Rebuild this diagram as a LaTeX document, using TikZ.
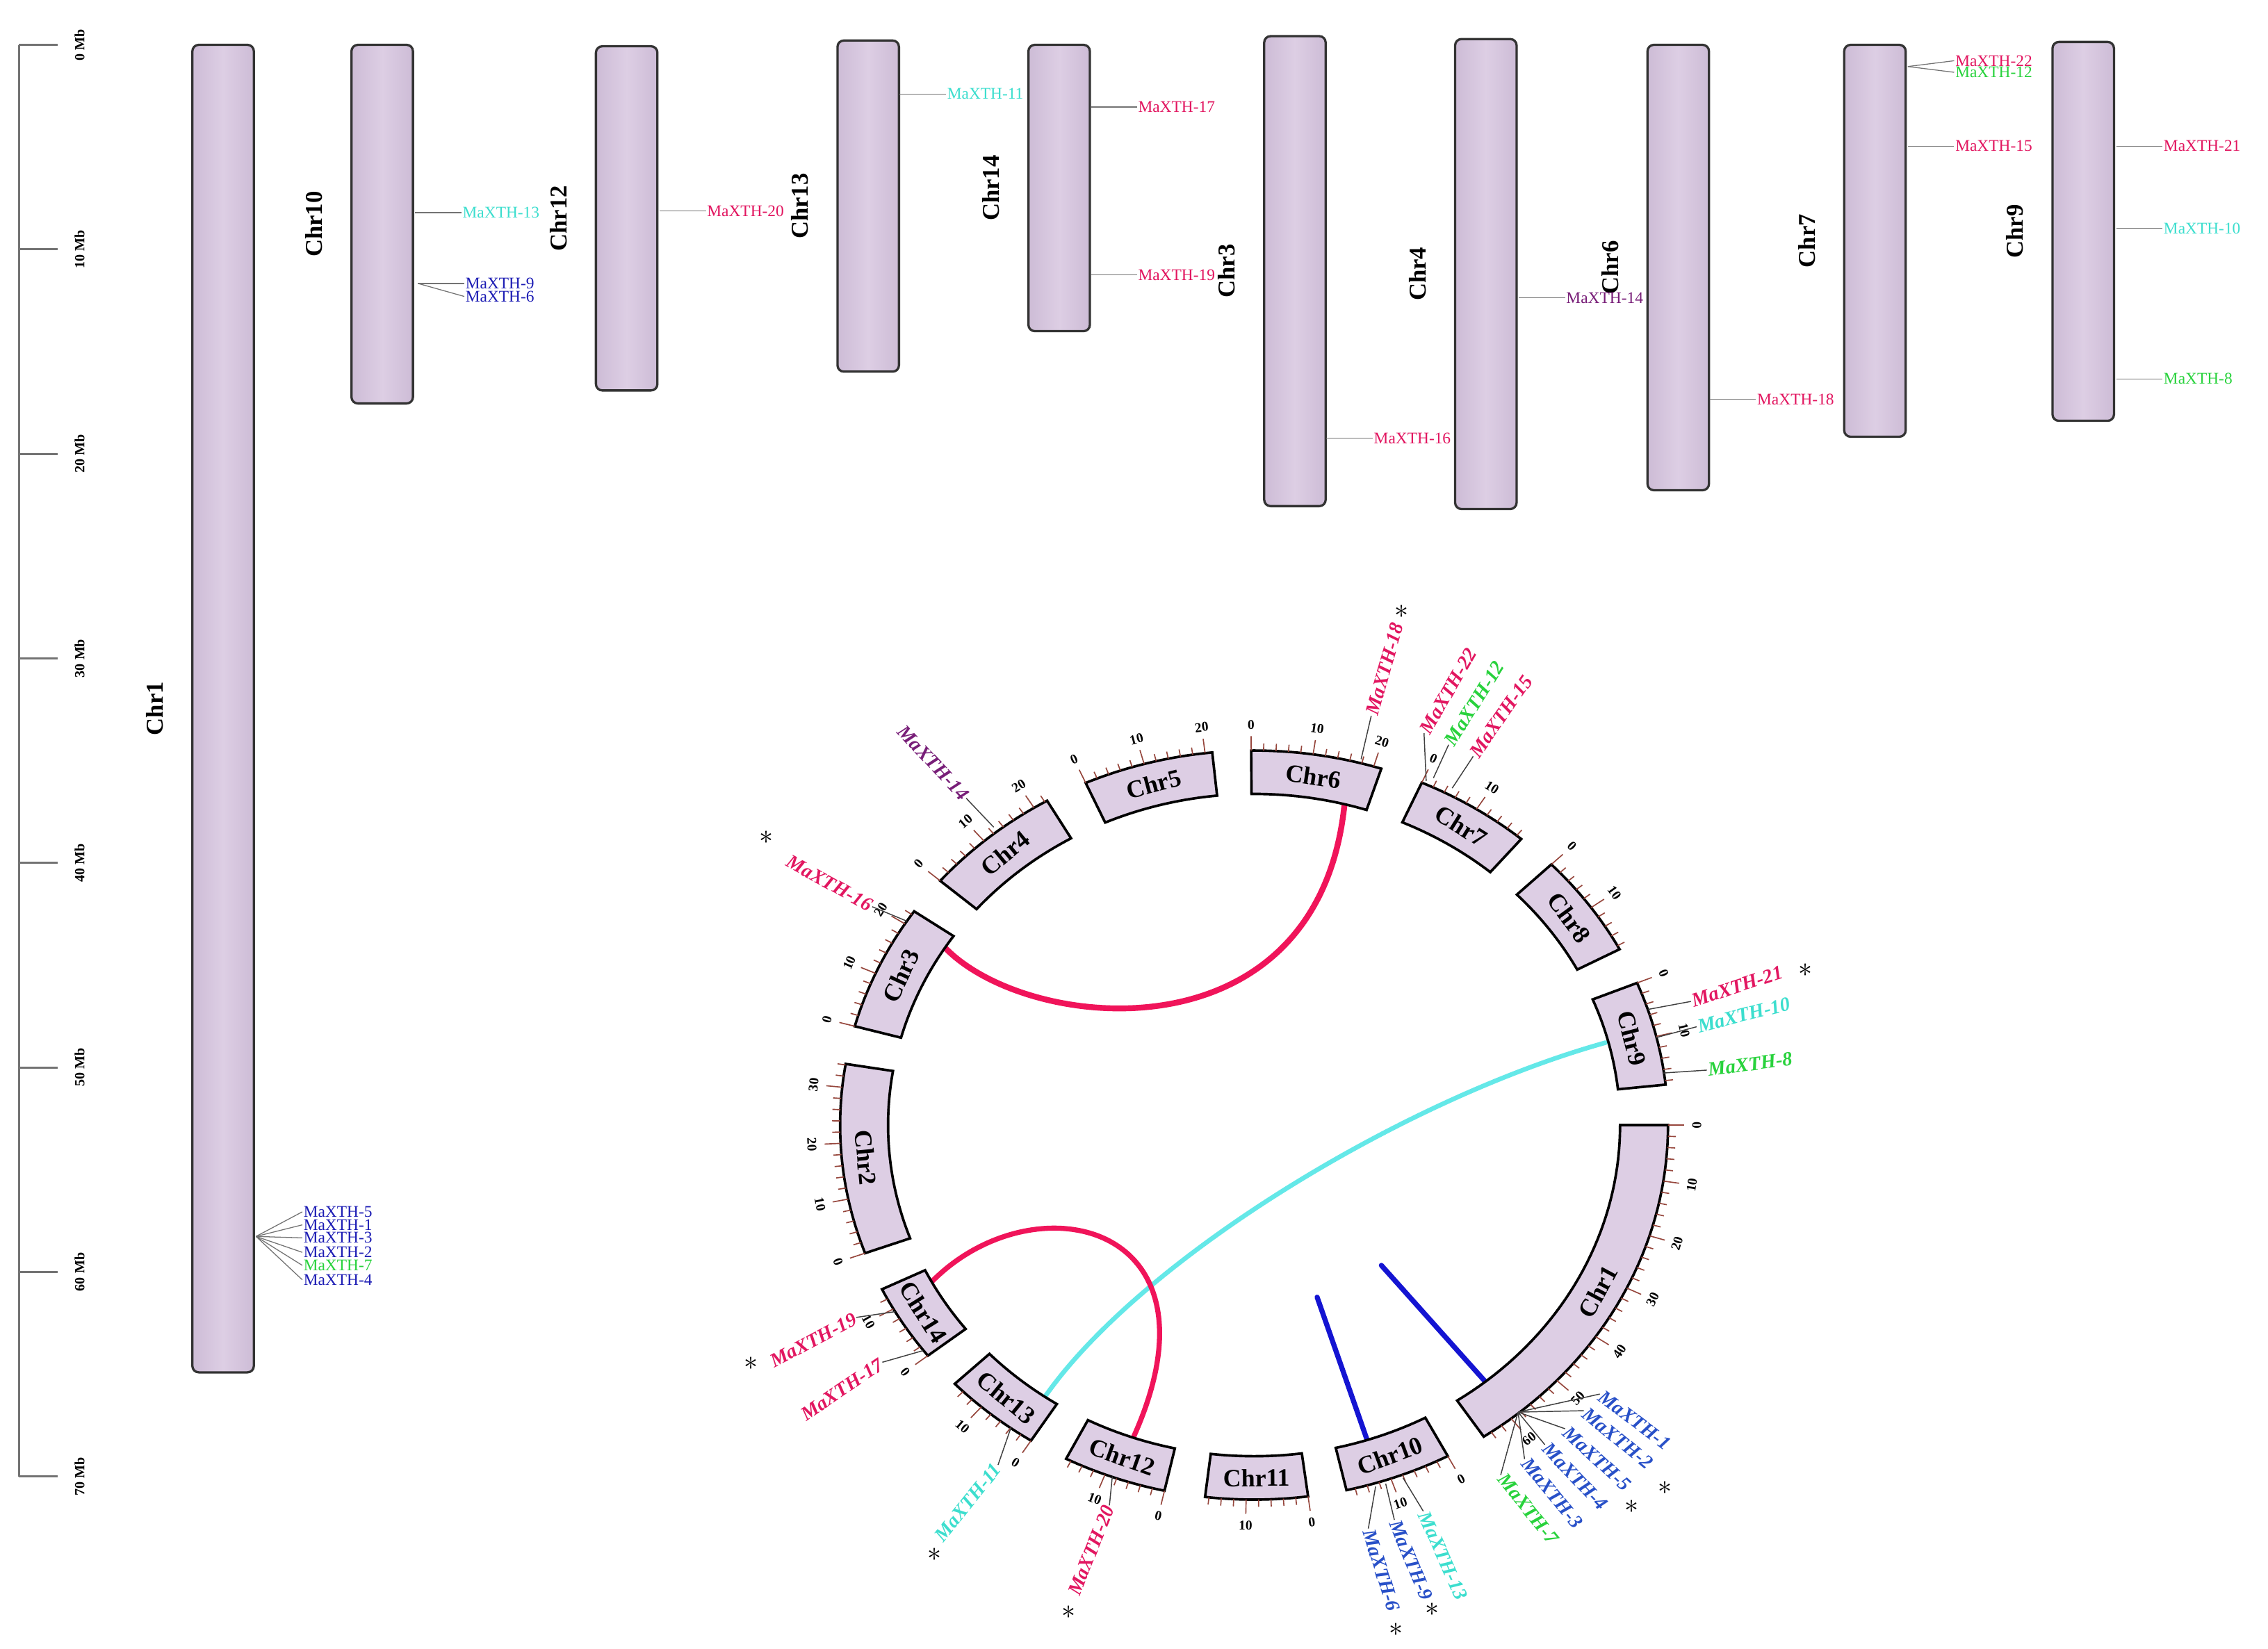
\documentclass[tikz,border=0pt]{standalone}
\usepackage{fontspec}
\setmainfont{Liberation Serif}
\definecolor{chrfill}{RGB}{221,206,228}
\definecolor{chredge}{RGB}{205,188,214}
\definecolor{gred}{RGB}{226,22,96}
\definecolor{gcyan}{RGB}{60,222,206}
\definecolor{gblue}{RGB}{28,28,180}
\definecolor{cblue}{RGB}{40,80,200}
\definecolor{ggreen}{RGB}{40,210,60}
\definecolor{gpurple}{RGB}{120,30,120}
\definecolor{lred}{RGB}{240,20,90}
\definecolor{lcyan}{RGB}{100,232,232}
\definecolor{lblue}{RGB}{20,20,210}
\definecolor{tickc}{RGB}{150,70,60}
\begin{document}
\begin{tikzpicture}[x=0.02cm, y=-0.02cm,
  kchr/.style={draw=black!80, line width=0.9pt, left color=chredge, right color=chredge, middle color=chrfill, rounded corners=2.5pt},
  klab/.style={font=\bfseries\fontsize{9.5}{10}\selectfont, rotate=90, inner sep=0},
  scalel/.style={draw=black!55, line width=0.8pt},
  scalelab/.style={font=\bfseries\fontsize{5.5}{6}\selectfont, rotate=90, inner sep=0},
  tglab/.style={font=\fontsize{6.4}{7}\selectfont, anchor=west, inner sep=0.3pt},
  gline/.style={draw=black!55, line width=0.35pt},
  cblk/.style={draw=black, line width=1pt, fill=chrfill},
  clab/.style={font=\bfseries\fontsize{9.8}{10}\selectfont, inner sep=0},
  tickmark/.style={draw=tickc, line width=0.45pt},
  tlab/.style={font=\bfseries\fontsize{5.3}{6}\selectfont, inner sep=0},
  cglab/.style={font=\bfseries\itshape\fontsize{7.8}{8}\selectfont, inner sep=0.3pt},
  cgline/.style={draw=black!75, line width=0.4pt},
  astk/.style={font=\fontsize{11}{11}\selectfont, inner sep=0},
  link/.style={line width=#1, line cap=round}
]
\fill[white] (0,0) rectangle (1568,1140);
\useasboundingbox (0,0) rectangle (1568,1140);

% ---------- scale bar ----------
\draw[scalel] (13,31) -- (13,1021);
\foreach \k in {0,...,7} {
  \draw[scalel] (13,{31+141.43*\k}) -- (40,{31+141.43*\k});
  \pgfmathtruncatemacro\mbv{10*\k}
  \node[scalelab] (sc\k) at (55,{31+141.43*\k}) {\mbv\ Mb};
}

% ---------- karyotype chromosomes ----------
\foreach \nm/\xl/\yt/\yb in {1/133/31/949, 10/243/31/279, 12/412/32/270, 13/579/28/257, 14/711/31/229, 3/874/25/350, 4/1006/27/352, 6/1139/31/339, 7/1275/31/302, 9/1419/29/291} {
  \draw[kchr] (\xl,\yt) rectangle (\xl+42.5,\yb);
  \node[klab] (kChr\nm) at (\xl-26,{(\yt+\yb)/2}) {Chr\nm};
}

% ---------- karyotype gene labels ----------
\foreach \xr/\yc/\yl/\g/\col in {286/147/147/13/gcyan, 288/196/196/9/gblue, 288/196/205/6/gblue, 455/146/146/20/gred, 621/65/65/11/gcyan, 753/74/74/17/gred, 753/190/190/19/gred, 916/303/303/16/gred, 1049/206/206/14/gpurple, 1181/276/276/18/gred, 1318/46/42/22/gred, 1318/46/50/12/ggreen, 1318/101/101/15/gred, 1462/101/101/21/gred, 1462/158/158/10/gcyan, 1462/262/262/8/ggreen, 176/855/838/5/gblue, 176/855/847/1/gblue, 176/855/856/3/gblue, 176/855/866/2/gblue, 176/855/875/7/ggreen, 176/855/885/4/gblue} {
  \node[tglab, text=\col] (tg\g) at (\xr+33,\yl) {MaXTH-\g};
  \draw[gline] (\xr+1,\yc) -- (tg\g.west);
}

% ---------- links ----------
\coordinate (la1) at (653,655);   \coordinate (lb1) at (930,551);
\coordinate (la2) at (1110,721);  \coordinate (lb2) at (723,965);
\coordinate (la3) at (644.5,886); \coordinate (lb3) at (784,993);
\coordinate (la4) at (955,875);   \coordinate (lb4) at (1026.5,955);
\coordinate (la5) at (910.6,897); \coordinate (lb5) at (945.6,997);
\draw[lred, link=2.3pt] (la1) .. controls (710,715) and (915,735) .. (lb1);
\draw[lcyan, link=1.8pt] (la2) .. controls (970,760) and (790,870) .. (lb2);
\draw[lred, link=2pt] (la3) .. controls (715,815) and (850,845) .. (lb3);
\draw[lblue, link=2pt] (la4) -- (lb4);
\draw[lblue, link=2pt] (la5) -- (lb5);

% ---------- circular chromosomes ----------
\begin{scope}[shift={(867,778)}, xscale=1.105]
\foreach \nm/\a/\b in {1/0/56.3, 10/62.1/77.1, 11/82.5/96.8, 12/102.5/117, 13/122.6/136.3, 14/142/154, 2/160/189.4, 3/195.3/214.8, 4/220.7/240, 5/246/264.2, 6/269.6/287.9, 7/293.9/310.2, 8/315.9/332, 9/337.7/353.8} {
  \draw[cblk] plot[domain=\a:\b, samples=40] (\x:229) -- plot[domain=\b:\a, samples=40] (\x:259) -- cycle;
  \pgfmathsetmacro\cmid{(\a+\b)/2}
  \pgfmathsetmacro\crot{mod(900-\cmid,180)-90}
  \node[clab, rotate=\crot] (cChr\nm) at (\cmid:244) {Chr\nm};
  \pgfmathtruncatemacro\nt{floor((\b-\a)/0.86/2)}
  \foreach \k in {0,...,\nt} {
    \pgfmathsetmacro\ta{\a+1.72*\k}
    \pgfmathtruncatemacro\cmb{2*\k}
    \pgfmathtruncatemacro\maj{mod(\cmb,10)==0}
    \ifnum\maj=1
      \draw[tickmark] (\ta:259) -- (\ta:269);
      \pgfmathsetmacro\trot{mod(900-\ta,180)-90}
      \node[tlab, rotate=\trot] (tk\nm-\k) at (\ta:277) {\cmb};
    \else
      \draw[tickmark] (\ta:259) -- (\ta:264);
    \fi
  }
}
\end{scope}

% ---------- circular gene labels ----------
\foreach \g/\col/\px/\py/\qx/\qy/\anc/\rt in {
  18/gred/941/525/948/495/west/74,
  22/gred/986/540/984.5/507/west/60,
  12/ggreen/991/538/1001.5/515/west/58,
  15/gred/1004/545/1018.5/523/west/55,
  21/gred/1139.5/698/1169/692.5/west/18,
  10/gcyan/1145/717.5/1173/710/west/14,
  8/ggreen/1150/742/1180/740/west/7.6,
  1/cblue/1049.5/976.5/1106/964/west/-37,
  2/cblue/1049.5/976.5/1095/975.5/west/-39.4,
  5/cblue/1049.5/976.5/1082/988/west/-43,
  4/cblue/1049.5/976.5/1068/999/west/-46.4,
  3/cblue/1049.5/976.5/1054/1009/west/-50.7,
  7/ggreen/1049.5/976.5/1037.5/1020/west/-51,
  6/cblue/951/1028/946/1057/west/-72.6,
  9/cblue/958/1026/964/1051/west/-67.5,
  13/gcyan/970/1022/984/1045/west/-66,
  20/gred/769/1021/767/1041/east/68,
  11/gcyan/699/987/690/1013/east/51,
  17/gred/638/934/610/942/east/34,
  19/gred/619/907/592/911/east/28,
  16/gred/627/637/603/627/east/-29,
  14/gpurple/687/572/668/552/east/-47} {
  \node[cglab, text=\col, anchor=\anc, rotate=\rt] (cg\g) at (\qx,\qy) {MaXTH-\g};
  \draw[cgline] (\px,\py) -- (cg\g.\anc);
}

% ---------- asterisks ----------
\foreach \sx/\sy [count=\i] in {969/423, 530/579, 1248/671, 519/943, 646/1075, 739/1115, 965/1127, 990/1113, 1128/1042, 1151/1029} {
  \node[astk] (st\i) at (\sx,\sy) {$\ast$};
}
\end{tikzpicture}
\end{document}
